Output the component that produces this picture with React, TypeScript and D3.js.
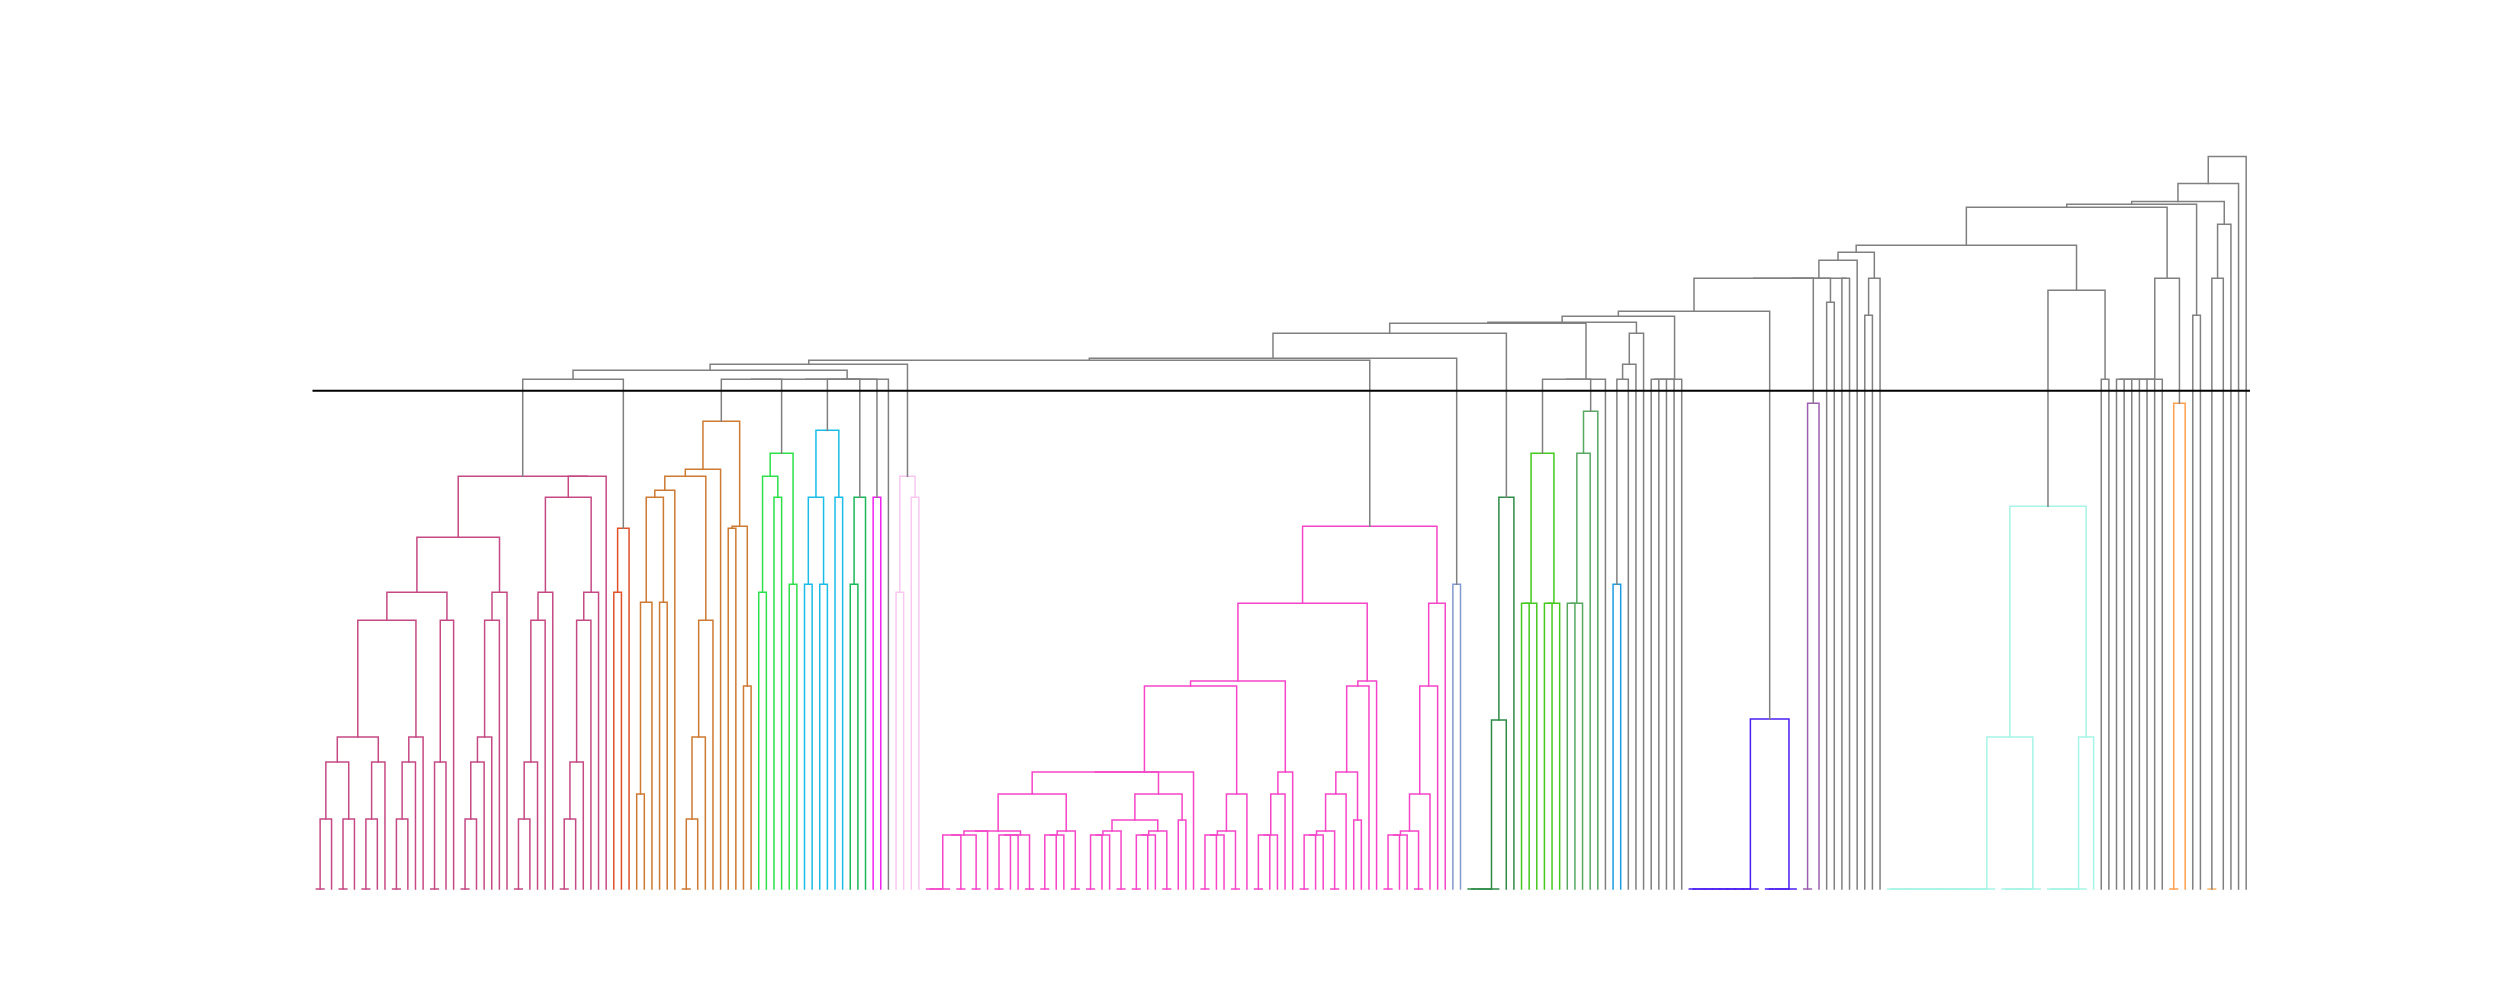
import * as d3 from 'd3';
import { useEffect, useRef } from 'react';

// a tree is [merge height, left, right]; a bare number n stands for n leaves joined at height 0;
// a string names one of the coloured clusters below
type Tree = number | string | [number, Tree, Tree];

const leftMagenta: Tree = [41.3,
  [35.2,
    [29.7,
      [26.9,
        [15.2, [12.7, [7.0, 2, 1], [7.0, 2, 1]], [12.7, [7.0, 2, 1], 1]],
        [15.2, [12.7, [7.0, 2, 1], 1], 1]],
      [26.9, [12.7, 2, 1], 1]],
    [29.7, [26.9, [15.2, [12.7, [7.0, 2, 1], 1], 1], 1], 1]],
  [41.3,
    [39.2,
      [29.7, [26.9, [12.7, [7.0, 2, 1], 1], 1], 1],
      [29.7, [26.9, [12.7, [7.0, 2, 1], 1], 1], 1]],
    1]];
const red: Tree = [36.1, [29.7, 1, 1], 1];
const peru: Tree = [46.8,
  [42.0,
    [41.3,
      [39.9, [39.2, [28.7, [9.5, 1, 1], 1], [28.7, 1, 1]], 1],
      [26.9, [15.2, [7.0, 2, 1], 1], 1]],
    1],
  [36.3, [36.1, 1, 1], [20.3, 1, 1]]];
const lime: Tree = [43.6, [41.3, [29.7, 1, 1], [39.2, 1, 1]], [30.5, 1, 1]];
const sky: Tree = [45.9, [39.2, [30.5, 1, 1], [30.5, 1, 1]], [39.2, 1, 1]];
const emerald: Tree = [39.2, [30.5, 1, 1], 1];
const fuchsia: Tree = [39.2, 1, 1];
const pink: Tree = [41.3, [29.7, 1, 1], [39.2, 1, 1]];

const bigA: Tree = [9.5,
  [5.8, [5.8, [5.4, [5.4, 4, 2], 2], 1], [5.4, [5.4, [5.4, 2, 1], 1], 2]],
  [5.8, [5.4, [5.4, 2, 1], 1], 2]];
const bigB: Tree = [9.5,
  [6.9, [5.8, [5.4, [5.4, 2, 1], 1], 2], [5.8, [5.4, [5.4, 2, 1], 1], 2]],
  [6.9, 1, 1]];
const bigC: Tree = [9.5, [5.8, [5.4, [5.4, 2, 1], 1], 2], 1];
const bigD: Tree = [11.7, [9.5, [5.4, [5.4, 2, 1], 1], 1], 1];
const bigE: Tree = [20.8, [20.3, [11.7, [9.5, [5.8, [5.4, [5.4, 2, 1], 1], 2], 1], [6.9, 1, 1]], 1], 1];
const bigF: Tree = [28.6, [20.3, [9.5, [5.8, [5.4, [5.4, 2, 1], 1], 2], 1], 1], 1];
const magenta: Tree = [36.3,
  [28.6, [20.8, [20.3, [11.7, [11.7, bigA, bigB], 1], bigC], bigD], bigE],
  bigF];

const slate: Tree = [30.5, 1, 1];
const forest: Tree = [39.2, [16.9, 5, 1], 1];
const grass: Tree = [43.6, [28.6, [28.6, 1, 1], 1], [28.6, [28.6, 1, 1], 1]];
const sage: Tree = [47.8, [43.6, [28.6, [28.6, 1, 1], 1], 1], 1];
const azure: Tree = [30.5, 1, 1];
const indigo: Tree = [17.0, 10, 5];
const violet: Tree = [48.6, 2, 1];
const aqua: Tree = [38.3, [15.2, 15, 6], [15.2, 6, 1]];
const tangerine: Tree = [48.6, 2, 1];
const apricot: Tree = 2;

const clusterNames = ['leftMagenta', 'red', 'peru', 'lime', 'sky', 'emerald', 'fuchsia', 'pink',
  'magenta', 'slate', 'forest', 'grass', 'sage', 'azure', 'indigo', 'violet', 'aqua', 'tangerine', 'apricot'];
const clusterTrees: Tree[] = [leftMagenta, red, peru, lime, sky, emerald, fuchsia, pink,
  magenta, slate, forest, grass, sage, azure, indigo, violet, aqua, tangerine, apricot];
const clusterColors = ['#c54a84', '#e0512b', '#cd7a32', '#2ee04a', '#1bbde8', '#1ab85a', '#f020f0', '#f8c8f0',
  '#f545c8', '#8399d1', '#2e8b47', '#44c91e', '#58a862', '#1c9be3', '#4a1ff2', '#9c5fb0', '#a6f5e6', '#ff9f4f', '#ffb366'];

// grey links above the colour threshold
const chain5: Tree = [51.0, [51.0, [51.0, [51.0, 1, 1], 1], 1], 1];
const chain7: Tree = [51.0, [51.0, [51.0, [51.0, [51.0, [51.0, 1, 1], 1], 1], 1], 1], 1];
const leftGroup: Tree = [52.9,
  [52.5, [51.9, [51.0, 'leftMagenta', 'red'],
    [51.0, [51.0, [51.0, 'peru', 'lime'], [51.0, [51.0, 'sky', 'emerald'], 'fuchsia']], 1]], 'pink'],
  'magenta'];
const midGroup: Tree = [57.8,
  [57.3,
    [56.7,
      [56.6, [55.6, [53.1, leftGroup, 'slate'], 'forest'], [51.0, [51.0, 'grass', 'sage'], 1]],
      [55.6, [52.5, [51.0, 'azure', 1], 1], 1]],
    chain5],
  'indigo'];
const upperTree: Tree = [73.3,
  [70.6,
    [68.8,
      [68.5,
        [68.2,
          [64.4,
            [63.7,
              [62.9, [61.1, [61.1, [61.1, midGroup, 'violet'], [58.7, 1, 1]], [61.1, 1, 1]], 1],
              [61.1, [57.4, 1, 1], 1]],
            [59.9, 'aqua', [51.0, 1, 1]]],
          [61.1, chain7, 'tangerine']],
        [57.4, 1, 1]],
      [66.5, [61.1, 'apricot', 1], 1]],
    1],
  1];

const threshold = 49.84;
const grey = '#808080';

function countLeaves(t: Tree): number {
  if (typeof t === 'number') return t;
  if (typeof t === 'string') return countLeaves(clusterTrees[clusterNames.indexOf(t)]);
  return countLeaves(t[1]) + countLeaves(t[2]);
}

function drawDendrogram(el: SVGSVGElement) {
  const n = countLeaves(upperTree);
  const x = d3.scaleLinear().domain([0, n]).range([312.5, 2250]);
  const y = d3.scaleLinear().domain([0, 73.3]).range([889, 156.4]);

  const links: { pts: [number, number][]; color: string }[] = [];
  let next = 0;

  function walk(t: Tree, color: string): { x: number; h: number } {
    if (typeof t === 'string') {
      const i = clusterNames.indexOf(t);
      return walk(clusterTrees[i], clusterColors[i]);
    }
    if (typeof t === 'number') {
      let cx = x(next + 0.5);
      next++;
      for (let k = 1; k < t; k++) {
        const nx = x(next + 0.5);
        next++;
        links.push({ pts: [[cx, 0], [nx, 0]], color });
        cx = (cx + nx) / 2;
      }
      return { x: cx, h: 0 };
    }
    const [d, a, b] = t;
    const A = walk(a, color);
    const B = walk(b, color);
    links.push({ pts: [[A.x, A.h], [A.x, d], [B.x, d], [B.x, B.h]], color });
    return { x: (A.x + B.x) / 2, h: d };
  }
  walk(upperTree, grey);

  const svg = d3.select(el);
  svg.selectAll('*').remove();
  svg.append('rect').attr('width', 2500).attr('height', 1000).attr('fill', 'white');

  const line = d3.line<[number, number]>().x(p => p[0]).y(p => y(p[1]));
  svg.append('g')
    .selectAll('path')
    .data(links)
    .join('path')
    .attr('d', l => line(l.pts))
    .attr('fill', 'none')
    .attr('stroke', l => l.color)
    .attr('stroke-width', 1.5)
    .attr('stroke-linecap', 'square');

  svg.append('line')
    .attr('x1', x(0)).attr('x2', x(n))
    .attr('y1', y(threshold)).attr('y2', y(threshold))
    .attr('stroke', 'black')
    .attr('stroke-width', 2);
}

export default function App() {
  const ref = useRef<SVGSVGElement>(null);
  useEffect(() => {
    if (ref.current) drawDendrogram(ref.current);
  }, []);
  return (
    <svg ref={ref} width={2500} height={1000}
      style={{ position: 'absolute', left: 0, top: 0, display: 'block' }} />
  );
}
